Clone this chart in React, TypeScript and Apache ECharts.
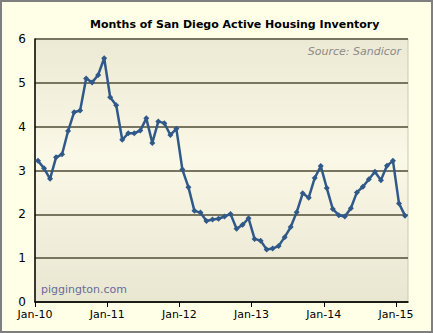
import React, { useEffect, useRef } from "react";
import * as echarts from "echarts";

const monthLabels = ["Jan-10", "Jan-11", "Jan-12", "Jan-13", "Jan-14", "Jan-15"];
const tickMonths = [0, 12, 24, 36, 48, 60];
const yTicks = [0, 1, 2, 3, 4, 5, 6];
// monthly values Jan-10 .. Feb-15
const inventory = [
  3.22, 3.05, 2.81, 3.3, 3.37, 3.9, 4.33, 4.37, 5.1, 5.01, 5.18, 5.56,
  4.67, 4.49, 3.7, 3.85, 3.85, 3.91, 4.19, 3.63, 4.12, 4.08, 3.81, 3.95,
  3.02, 2.62, 2.08, 2.04, 1.85, 1.88, 1.9, 1.95, 2.01, 1.67, 1.76, 1.91,
  1.44, 1.4, 1.2, 1.22, 1.28, 1.48, 1.71, 2.05, 2.48, 2.38, 2.83, 3.1,
  2.6, 2.12, 1.98, 1.95, 2.14, 2.5, 2.63, 2.8, 2.97, 2.78, 3.11, 3.22,
  2.25, 1.97,
];

const FONT = "DejaVu Sans";

export default function App() {
  const ref = useRef<HTMLDivElement>(null);
  useEffect(() => {
    document.body.style.margin = "0";
    const chart = echarts.init(ref.current!, null, { renderer: "svg" });
    const data = inventory.map((v, i) => [i + 0.5, v]);
    chart.setOption({
      animation: false,
      backgroundColor: "#FFFFE8",
      title: {
        text: "Months of San Diego Active Housing Inventory",
        left: 85,
        top: 14,
        textStyle: { fontFamily: FONT, fontSize: 11, fontWeight: "bold", color: "#000" },
      },
      grid: {
        left: 35,
        right: 25,
        top: 39,
        bottom: 31,
        show: true,
        borderColor: "#C9C7B6",
        borderWidth: 1,
        backgroundColor: {
          type: "linear",
          x: 0,
          y: 0,
          x2: 0,
          y2: 1,
          colorStops: [
            { offset: 0, color: "#ECE9D4" },
            { offset: 0.45, color: "#FAF8E6" },
            { offset: 1, color: "#E9E6D2" },
          ],
        },
      },
      xAxis: {
        type: "value",
        min: 0,
        max: 62,
        splitLine: { show: false },
        axisLine: { show: true, onZero: false, lineStyle: { color: "#000", width: 1.5 } },
        axisTick: {
          show: true,
          length: 5,
          customValues: tickMonths,
          lineStyle: { color: "#000", width: 1 },
        },
        axisLabel: {
          customValues: tickMonths,
          fontFamily: FONT,
          fontSize: 11,
          color: "#000",
          margin: 7,
          formatter: (v: number) => {
            const idx = tickMonths.indexOf(Math.round(v));
            return idx >= 0 ? monthLabels[idx] : "";
          },
        },
      },
      yAxis: {
        type: "value",
        min: 0,
        max: 6,
        interval: 1,
        axisLine: { show: true, lineStyle: { color: "#000", width: 1.5 } },
        axisTick: { show: false },
        splitLine: { show: true, lineStyle: { color: "#77745F", width: 2 } },
        axisLabel: {
          customValues: yTicks,
          fontFamily: FONT,
          fontSize: 12,
          lineHeight: 12,
          color: "#000",
          margin: 9,
        },
      },
      graphic: [
        {
          type: "rect",
          shape: { x: 1, y: 1, width: 431, height: 331 },
          style: { fill: "none", stroke: "#7F7F7F", lineWidth: 2 },
          silent: true,
        },
        {
          type: "text",
          x: 401,
          y: 51,
          style: {
            text: "Source: Sandicor",
            fontFamily: FONT,
            fontSize: 11,
            fontStyle: "italic",
            fill: "#8A8A8A",
            align: "right",
            verticalAlign: "middle",
          },
          z: 10,
        },
        {
          type: "text",
          x: 41,
          y: 289,
          style: {
            text: "piggington.com",
            fontFamily: FONT,
            fontSize: 11,
            fill: "#6A6A9C",
            align: "left",
            verticalAlign: "middle",
          },
          z: 10,
        },
      ],
      series: [
        {
          type: "line",
          data,
          symbol: "diamond",
          symbolSize: 6,
          lineStyle: { color: "#30598A", width: 2.5 },
          itemStyle: { color: "#30598A" },
          z: 5,
        },
      ],
    });
    return () => chart.dispose();
  }, []);
  return <div ref={ref} style={{ width: 433, height: 333 }} />;
}
